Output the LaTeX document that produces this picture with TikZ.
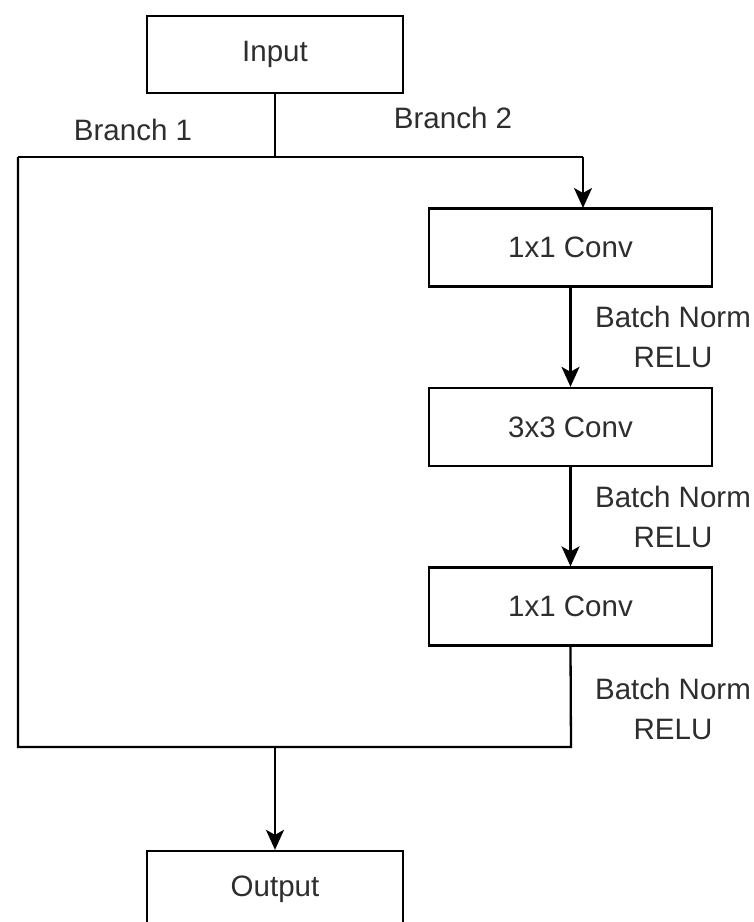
\documentclass[tikz,border=0pt]{standalone}
\usepackage{fontspec}
\setmainfont{Liberation Sans}
\usetikzlibrary{arrows.meta}
\definecolor{txt}{HTML}{2E2E2E}
\begin{document}
\begin{tikzpicture}[x=1pt,y=-1pt,
  wire/.style={draw=black, line width=2.3pt},
  arr/.style={wire, -{Stealth[width=18pt,length=20pt,inset=5pt]}},
  lbl/.style={text=txt, font=\fontsize{29.5}{40}\selectfont, inner sep=0pt, align=center},
  iobox/.style={draw=black, line width=2.3pt, fill=white, minimum width=256pt, minimum height=77pt, inner sep=0pt, text=txt, font=\fontsize{29.5}{32}\selectfont},
  convbox/.style={iobox, minimum width=283pt, minimum height=78pt}]
\clip (0,0) rectangle (754,922);
\fill[white] (0,0) rectangle (754,922);

\node[iobox] (input) at (275,54.5) {Input};
\node[convbox] (c1) at (570.5,247.5) {1x1 Conv};
\node[convbox] (c2) at (570.5,427) {3x3 Conv};
\node[convbox] (c3) at (570.5,606.5) {1x1 Conv};
\node[iobox] (output) at (275,889.5) {Output};

\coordinate (split) at (275,157);
\coordinate (tl) at (18,157);
\coordinate (tr) at (583,157);
\coordinate (c1in) at (583,208);
\coordinate (bl) at (18,747);
\coordinate (br) at (571,747);
\coordinate (merge) at (275,747);

\draw[wire] (input.south) -- (split);
\draw[wire, line join=miter] (tl) -- (tr);
\draw[arr] (tr) -- (c1in);
\draw[wire, line join=miter] (tl) -- (bl) -- (br) -- (c3.south);
\draw[arr] (c1.south) -- (c2.north);
\draw[arr] (c2.south) -- (c3.north);
\draw[arr] (merge) -- (output.north);

\node[lbl] (b1) at (133,130) {Branch 1};
\node[lbl] (b2) at (453,118) {Branch 2};
\node[lbl] (n1) at (673,337) {Batch Norm\\RELU};
\node[lbl] (n2) at (673,517) {Batch Norm\\RELU};
\node[lbl] (n3) at (673,709) {Batch Norm\\RELU};
\end{tikzpicture}
\end{document}
